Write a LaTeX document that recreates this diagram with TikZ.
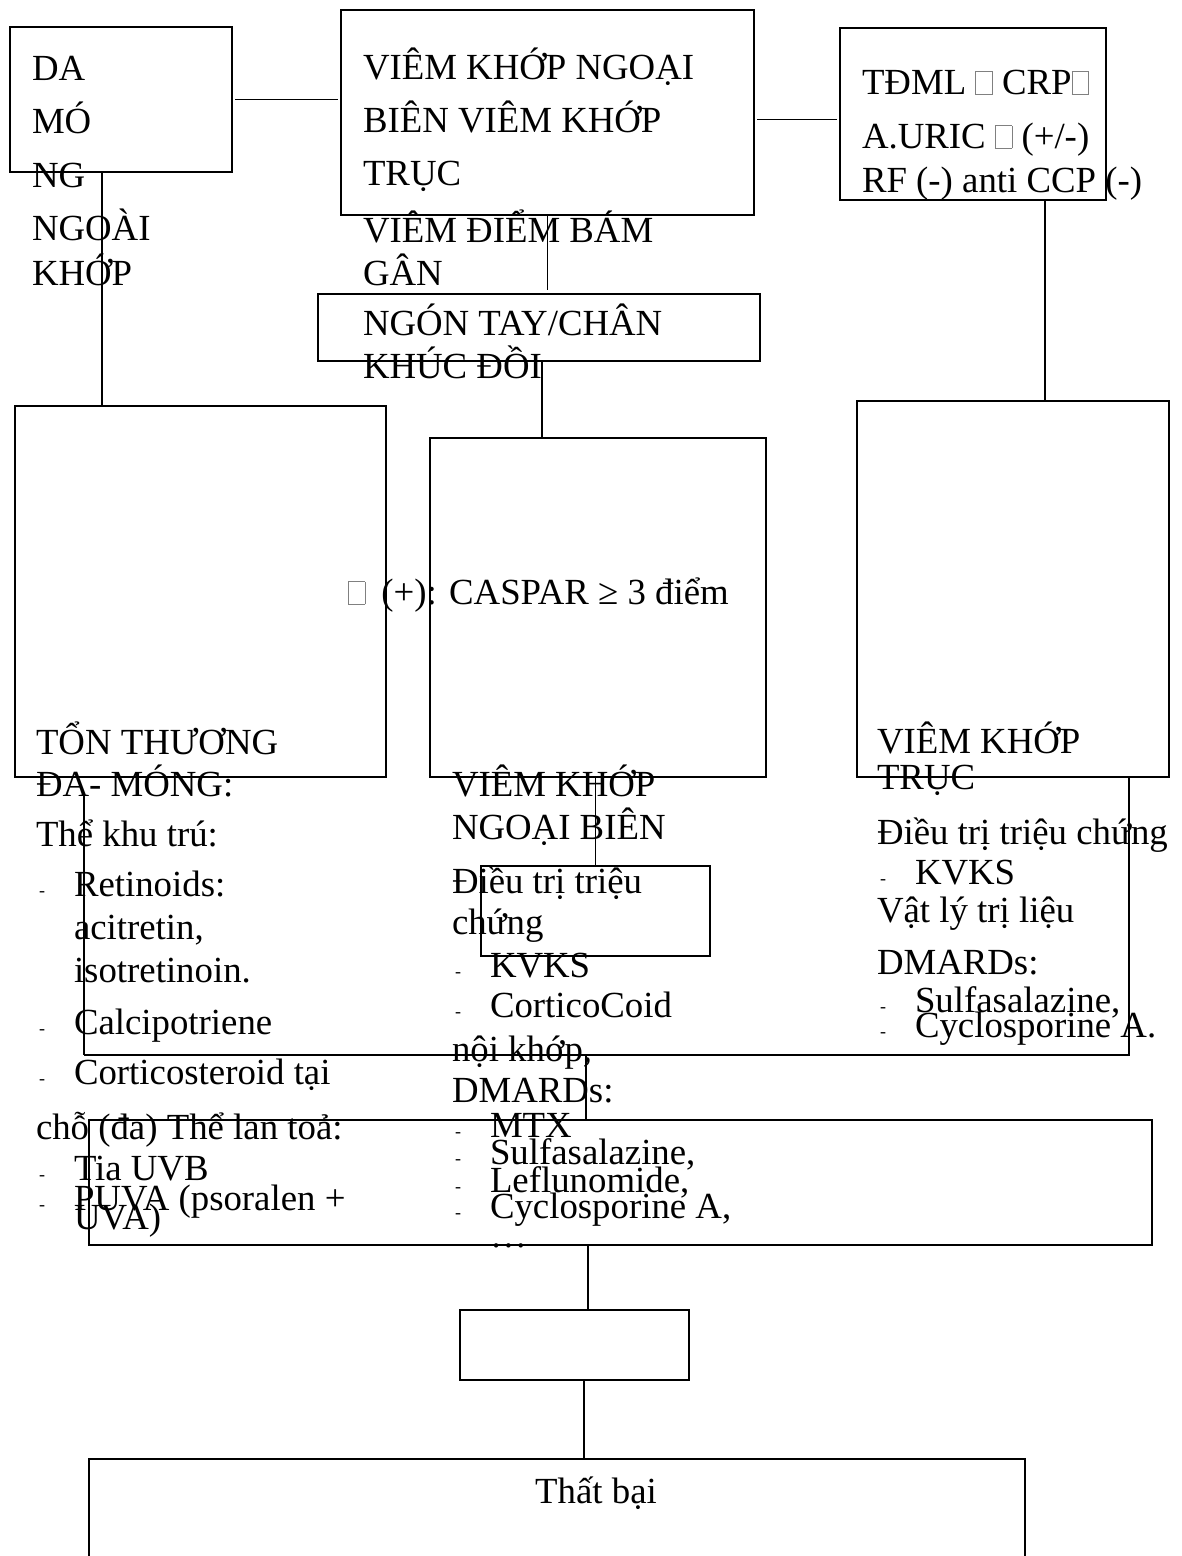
\documentclass[tikz,border=0pt]{standalone}
\usepackage{fontspec}
\setmainfont{Liberation Serif}
\tikzstyle{box} = [rectangle, draw=black, line width=1.2pt, inner sep=0pt, outer sep=0pt]
\tikzstyle{txt} = [inner sep=0pt, outer sep=0pt, anchor=base west, text width=440pt, align=flush left, font=\fontsize{36.8}{43}\selectfont]
\tikzstyle{link} = [line width=1.2pt]
\newcommand{\bul}{\makebox[38pt][l]{\hspace{3pt}\fontsize{18}{18}\selectfont -}}
\newcommand{\ind}{\hspace*{38pt}}
\newcommand{\tofu}{\textcolor{gray}{\setlength{\fboxsep}{0pt}\setlength{\fboxrule}{0.7pt}\fbox{\rule{0pt}{22pt}\hspace{16pt}}}}
\lineskiplimit=-40pt
\begin{document}
\begin{tikzpicture}[x=1pt, y=-1pt]
	\useasboundingbox (0,0) rectangle (1182,1556);
	\fill[white] (0,0) rectangle (1182,1556);
	\clip (0,0) rectangle (1182,1556);

	% top row
	\node (da) [box, minimum width=222pt, minimum height=145pt] at (121,99.5) {};
	\node (vkng) [box, minimum width=413pt, minimum height=205pt] at (547.5,112.5) {};
	\node (tdml) [box, minimum width=266pt, minimum height=172pt] at (973,114) {};
	\node (ngon) [box, minimum width=442pt, minimum height=67pt] at (539,327.5) {};

	% middle row
	\node (tonthuong) [box, minimum width=371pt, minimum height=371pt] at (200.5,591.5) {};
	\node (caspar) [box, minimum width=336pt, minimum height=339pt] at (598,607.5) {};
	\node (truc) [box, minimum width=312pt, minimum height=376pt] at (1013,589) {};
	\node (small) [box, minimum width=229pt, minimum height=90pt] at (595.5,911) {};

	% bottom
	\node (wide) [box, minimum width=1063pt, minimum height=125pt] at (620.5,1182.5) {};
	\node (lowbox) [box, minimum width=229pt, minimum height=70pt] at (574.5,1345) {};
	\node (thatbai) [box, minimum width=936pt, minimum height=200pt] at (557,1559) {};

	% texts
	\node (tda) [txt] at (32,80) {DA\\[10pt] MÓ\\[11pt] NG\\[10pt] NGOÀI\\[2pt] KHỚP};
	\node (tvkng) [txt] at (363,79) {VIÊM KHỚP NGOẠI\\[10pt] BIÊN VIÊM KHỚP\\[10pt] TRỤC\\[14pt] VIÊM ĐIỂM BÁM\\ GÂN};
	\node (tngon) [txt] at (363,335) {NGÓN TAY/CHÂN\\ KHÚC ĐỒI};
	\node (ttdml) [txt] at (862,94) {TĐML \tofu{} CRP\tofu\\[11pt] A.URIC \tofu{} (+/-)\\[1pt] RF (-) anti CCP (-)};
	\node (tcaspar) [txt] at (348,604) {\tofu\hspace{16pt}(+): CASPAR ≥ 3 điểm};

	\node (tleft) [txt] at (36,754) {TỔN THƯƠNG\\[-1pt] ĐA- MÓNG:\\[7pt] Thể khu trú:\\[7pt]
		\bul Retinoids:\\ \ind acitretin,\\ \ind isotretinoin.\\[9pt] \bul Calcipotriene\\[7pt]
		\bul Corticosteroid tại\\[12pt] chỗ (đa) Thể lan toả:\\[-2pt] \bul Tia UVB\\[-13pt]
		\bul PUVA (psoralen +\\[-24pt] \ind UVA)};
	\node (tmid) [txt] at (452,796) {VIÊM KHỚP\\ NGOẠI BIÊN\\[11pt] Điều trị triệu\\[-2pt] chứng\\
		\bul KVKS\\[-3pt] \bul CorticoCoid\\[1pt] nội khớp,\\[-2pt] DMARDs:\\[-8pt] \bul MTX\\[-16pt]
		\bul Sulfasalazine,\\[-15pt] \bul Leflunomide,\\[-17pt] \bul Cyclosporine A,\\[-14pt] \ind …};
	\node (tright) [txt] at (877,753) {VIÊM KHỚP\\[-7pt] TRỤC\\[12pt] Điều trị triệu chứng\\[-3pt]
		\bul KVKS\\[-5pt] Vật lý trị liệu\\[9pt] DMARDs:\\[-5pt] \bul Sulfasalazine,\\[-18pt]
		\bul Cyclosporine A.};
	\node (ttb) [inner sep=0pt, anchor=base, font=\fontsize{36.8}{43}\selectfont] at (596,1503) {Thất bại};

	% connectors
	\coordinate (jl) at (84,1055);
	\coordinate (jr) at (1129,1055);
	\coordinate (jm) at (586,1055);
	\draw[link, shorten <=3pt, shorten >=3pt] (da.east) -- (da.east -| vkng.west);
	\draw[link, shorten <=3pt, shorten >=3pt] ([yshift=-7pt]vkng.east) -- ([yshift=-7pt]vkng.east -| tdml.west);
	\draw[link, shorten >=4pt] (vkng.south) -- (vkng.south |- ngon.north);
	\draw[link] ([xshift=3pt]ngon.south) -- ([xshift=3pt]ngon.south |- caspar.north);
	\draw[link] ([xshift=-19pt]da.south) -- ([xshift=-19pt]da.south |- tonthuong.north);
	\draw[link] ([xshift=72pt]tdml.south) -- ([xshift=72pt]tdml.south |- truc.north);
	\draw[link] (small.north |- caspar.south) -- (small.north);
	\draw[link, shorten <=18pt] (tonthuong.south -| jl) -- (jl);
	\draw[link] (jl) -- (jr) -- (truc.south -| jr);
	\draw[link] (jm) -- (jm |- wide.north);
	\draw[link] ([xshift=13.5pt]lowbox.north |- wide.south) -- ([xshift=13.5pt]lowbox.north);
	\draw[link] ([xshift=9.5pt]lowbox.south) -- ([xshift=9.5pt]lowbox.south |- thatbai.north);
\end{tikzpicture}
\end{document}
